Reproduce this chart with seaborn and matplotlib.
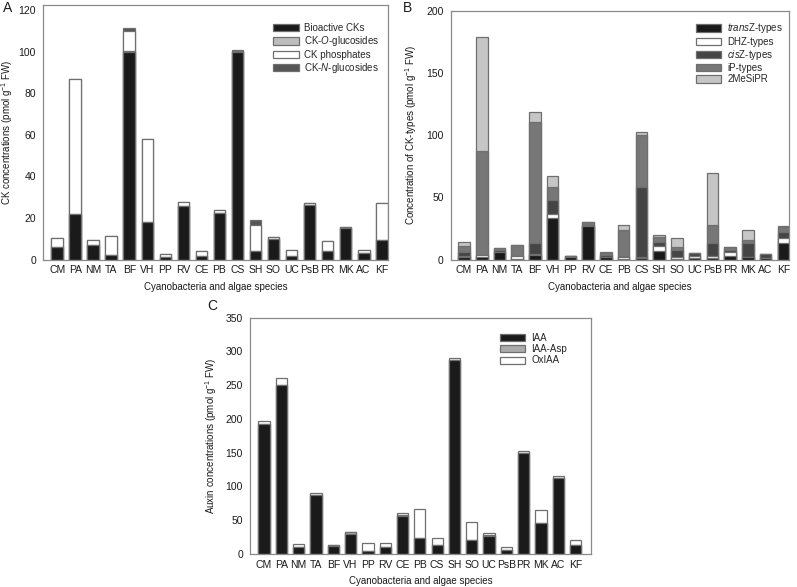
import numpy as np
import pandas as pd
import matplotlib
matplotlib.use("Agg")
import matplotlib.pyplot as plt
import seaborn as sns
from matplotlib.patches import Patch

sns.set_theme(style="white")
plt.rcParams['font.family'] = ['Liberation Sans', 'DejaVu Sans']
plt.rcParams['mathtext.fontset'] = 'custom'
plt.rcParams['mathtext.rm'] = 'Liberation Sans'
plt.rcParams['mathtext.it'] = 'Liberation Sans:italic'

species = ["CM", "PA", "NM", "TA", "BF", "VH", "PP", "RV", "CE", "PB",
           "CS", "SH", "SO", "UC", "PsB", "PR", "MK", "AC", "KF"]

# Panel A: CK groups (pmol/g FW)
bioactive_cks = [6, 22, 7, 2, 100, 18, 1, 25.5, 1.5, 22.5, 100, 4, 10, 1.5, 26, 4, 15, 3, 9.5]
ck_o_glucosides = [0, 0, 0, 0, 0.3, 0, 0, 0, 0, 0, 0, 0, 0, 0, 0, 0, 0, 0, 0]
ck_phosphates = [4.5, 65, 2.2, 9.2, 9.7, 40, 1.7, 2, 2.8, 1.3, 0.3, 12.5, 0.7, 3.3, 1.2, 4.8, 0.5, 1.5, 17.5]
ck_n_glucosides = [0, 0, 0, 0, 1.5, 0, 0, 0, 0, 0, 0.5, 2.5, 0, 0, 0, 0, 0.3, 0, 0]

# Panel B: CK types
transz_types = [2, 2, 6, 0.3, 3.5, 33, 2.3, 27, 2, 0.5, 1.5, 6.8, 0.5, 1.5, 1.5, 3, 2, 1, 13.4]
dhz_types = [1, 1.5, 0, 2.2, 1, 3.3, 0.2, 0, 0, 1.5, 0.5, 4, 1.5, 1.3, 1, 2.7, 0, 0, 3.6]
cisz_types = [3, 0.5, 2, 0.3, 8.5, 11.5, 0.3, 0.5, 2, 1, 56.5, 3.2, 5.5, 2.8, 11, 2, 11, 3.5, 5.3]
ip_types = [4.5, 83, 1, 8.5, 98, 10.2, 0, 2.5, 1.5, 21, 42, 4.3, 2.2, 0, 14, 2, 3, 0.3, 4]
me2sipr = [3.5, 92, 0, 0.5, 8, 9.2, 0, 0, 0.5, 4, 2.5, 1.6, 8, 0, 42, 0.5, 8, 0, 0.7]

# Panel C: auxins
iaa = [192, 250, 10, 87.5, 12.3, 30, 4, 11, 57, 23, 14, 288, 20, 27, 6, 149, 46.5, 112, 13.3]
iaa_asp = [0, 0, 0, 0, 1, 3, 0, 0, 1, 0, 0, 0, 0, 1, 0, 0, 0, 1, 0]
oxiaa = [5.5, 10, 5.5, 2.5, 0, 0, 12, 6, 2, 44, 10, 3, 28, 2.5, 5, 4, 18.5, 3, 7.5]

EDGE = "#6f6f6f"
TXT = "#1a1a1a"
SPINE = "#8a8a8a"

fig = plt.figure(figsize=(7.97, 5.87), dpi=100)
W, H = 797, 587


def px_axes(l, t, r, b):
    return fig.add_axes([l / W, 1 - b / H, (r - l) / W, (b - t) / H])


def stacked(ax, series, colors):
    # draw cumulative totals from the top down so each segment shows
    cum = np.cumsum(np.array(series, dtype=float), axis=0)
    for i in range(len(series) - 1, -1, -1):
        df = pd.DataFrame({"species": species, "value": cum[i]})
        sns.barplot(data=df, x="species", y="value", order=species,
                    color=colors[i], edgecolor=EDGE, linewidth=0.9,
                    width=0.65, saturation=1, ax=ax, errorbar=None)
    return [Patch(facecolor=c, edgecolor=EDGE, linewidth=0.9) for c in colors]


def style(ax, ylim, yticks, ylabel, xlim, ylab_x):
    ax.set_ylim(*ylim)
    ax.set_yticks(yticks)
    ax.set_xlim(*xlim)
    for s in ax.spines.values():
        s.set_visible(True)
        s.set_color(SPINE)
        s.set_linewidth(0.9)
    ax.tick_params(axis="both", which="both", direction="out", length=3,
                   width=0.8, color=SPINE, labelsize=7.5, labelcolor=TXT, pad=2)
    ax.tick_params(axis="x", length=0, pad=4)
    ax.set_ylabel(ylabel, fontsize=7, color=TXT)
    ax.yaxis.set_label_coords(ylab_x, 0.5)
    ax.set_xlabel("Cyanobacteria and algae species", fontsize=7, color=TXT, labelpad=5)
    ax.grid(False)


LEG = dict(loc="upper right", frameon=False, fontsize=7, handlelength=2.6,
           handleheight=0.75, handletextpad=0.6, labelspacing=0.13, borderaxespad=0.0)

# Panel A
axA = px_axes(43, 5, 388, 259.5)
hA = stacked(axA, [bioactive_cks, ck_o_glucosides, ck_phosphates, ck_n_glucosides],
             ["#1a1a1a", "#bdbdbd", "#ffffff", "#555555"])
style(axA, (0, 122.4), np.arange(0, 121, 20), r"CK concentrations (pmol g$^{-1}$ FW)", (-0.79, 18.35), -0.08)
axA.legend(hA, ["Bioactive CKs", r"CK-$\it{O}$-glucosides", "CK phosphates", r"CK-$\it{N}$-glucosides"],
           bbox_to_anchor=(0.988, 0.944), **LEG)

# Panel B
axB = px_axes(450.7, 11, 789, 259.5)
hB = stacked(axB, [transz_types, dhz_types, cisz_types, ip_types, me2sipr],
             ["#1a1a1a", "#ffffff", "#454545", "#777777", "#c6c6c6"])
style(axB, (0, 200), np.arange(0, 201, 50), r"Concentration of CK-types (pmol g$^{-1}$ FW)", (-0.75, 18.32), -0.094)
axB.legend(hB, [r"$\it{trans}$Z-types", "DHZ-types", r"$\it{cis}$Z-types", "iP-types", "2MeSiPR"],
           bbox_to_anchor=(0.994, 0.974), **LEG)

# Panel C
axC = px_axes(250, 317.7, 590.7, 554)
hC = stacked(axC, [iaa, iaa_asp, oxiaa], ["#1a1a1a", "#ababab", "#ffffff"])
style(axC, (0, 350), np.arange(0, 351, 50), r"Auxin concentrations (pmol g$^{-1}$ FW)", (-0.81, 18.87), -0.092)
axC.legend(hC, ["IAA", "IAA-Asp", "OxIAA"], bbox_to_anchor=(0.942, 0.952), **LEG)

fig.text(3 / W, 1 - 12 / H, "A", fontsize=10, color=TXT, va="baseline")
fig.text(403 / W, 1 - 12 / H, "B", fontsize=10, color=TXT, va="baseline")
fig.text(207 / W, 1 - 310 / H, "C", fontsize=10, color=TXT, va="baseline")

fig.savefig("out.png", dpi=100, facecolor="white")
